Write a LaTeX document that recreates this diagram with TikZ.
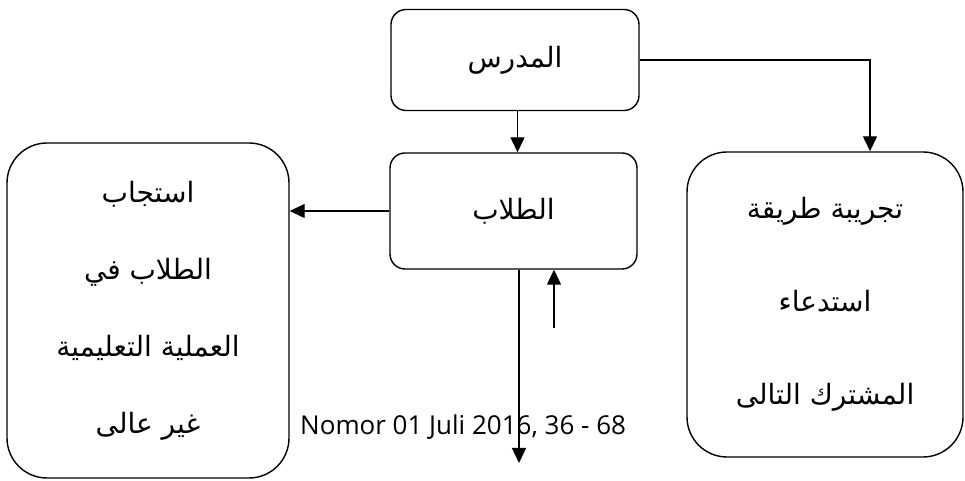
\documentclass[tikz,border=0pt]{standalone}
\usepackage{fontspec}
\usetikzlibrary{arrows.meta}
\TeXXeTstate=1
\newfontfamily\arabicfont[Script=Arabic]{DejaVu Sans}
\newfontfamily\latinfont{Open Sans}
\tikzset{
  box/.style={draw, line width=1.4pt, rounded corners=15pt, align=center,
    font=\arabicfont\fontsize{28}{34}\selectfont},
  bigbox/.style={box, rounded corners=40pt},
  arr/.style={line width=1.4pt, -{Triangle[length=15pt,width=14pt]}}
}
\begin{document}
\begin{tikzpicture}[x=1pt,y=1pt]
    \useasboundingbox (0,0) rectangle (965,481);
    \node[box, minimum width=248pt, minimum height=101pt] (mudarris) at (515,421) {\beginR المدرس\endR};
    \node[box, minimum width=247pt, minimum height=116pt] (tullab) at (513.5,270) {\beginR الطلاب\endR};
    \node[bigbox, minimum width=282pt, minimum height=335pt] (istijab) at (148,170.5)
        {\beginR استجاب\endR\\[43pt]\beginR الطلاب في\endR\\[43pt]\beginR العملية التعليمية\endR\\[43pt]\beginR غير عالى\endR};
    \node[bigbox, minimum width=276pt, minimum height=305pt] (tajriba) at (825,176.5)
        {\beginR تجريبة طريقة\endR\\[59pt]\beginR استدعاء\endR\\[59pt]\beginR المشترك التالى\endR};
    \node[anchor=base west, inner sep=0pt, font=\latinfont\fontsize{26}{30}\selectfont] (nomor) at (300,46) {Nomor 01 Juli 2016, 36 - 68};
    \coordinate (keluar) at (519,18);
    \coordinate (masuk) at (554,153);
    % arrows
    \draw[arr] ([xshift=2.5pt]mudarris.south) -- ([xshift=2.5pt]mudarris.south |- tullab.north);
    \draw[arr] (mudarris.east) -| ([xshift=45pt]tajriba.north);
    \draw[arr] (tullab.west) -- (tullab.west -| istijab.east);
    \draw[arr] (keluar |- tullab.south) -- (keluar);
    \draw[arr] (masuk) -- (masuk |- tullab.south);
\end{tikzpicture}
\end{document}
